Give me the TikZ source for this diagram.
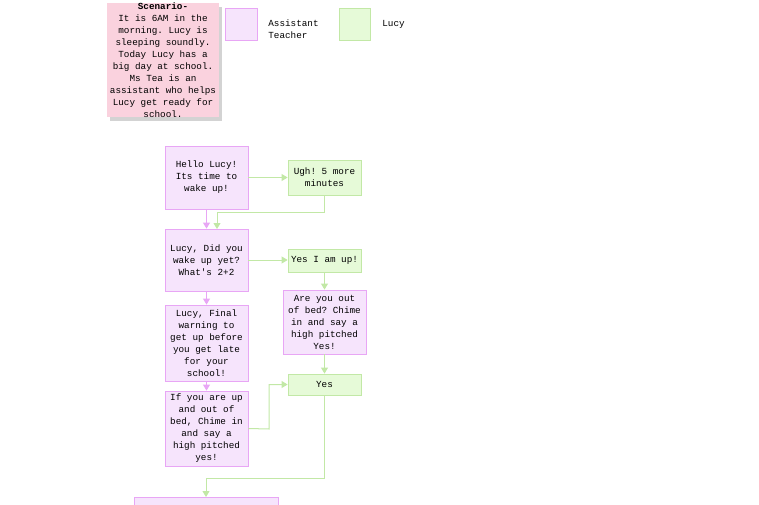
\documentclass[tikz,border=0pt]{standalone}
\usepackage{fontspec}
\setmonofont{Liberation Mono}
\usetikzlibrary{arrows.meta,shadows}
\definecolor{tfill}{HTML}{F6E4FC}
\definecolor{tline}{HTML}{E8A6F5}
\definecolor{lfill}{HTML}{E6FAD8}
\definecolor{lline}{HTML}{C2E8A6}
\definecolor{pfill}{HTML}{FAD2DE}
\begin{document}
\begin{tikzpicture}[x=1pt,y=-1pt,
  box/.style={font=\ttfamily\fontsize{9.3}{12}\selectfont,align=center,inner sep=0pt,line width=0.8pt},
  tbox/.style={box,fill=tfill,draw=tline},
  lbox/.style={box,fill=lfill,draw=lline},
  tarr/.style={draw=tline,line width=1pt,-{Triangle[length=6pt,width=7pt]}},
  larr/.style={draw=lline,line width=1pt,-{Triangle[length=6pt,width=7pt]}}]
\useasboundingbox (0,0) rectangle (759,505);
\node[box,fill=pfill,draw=none,minimum width=112pt,minimum height=114pt,drop shadow={shadow xshift=3pt,shadow yshift=-4pt,opacity=0.35}] (scen) at (163,60) {\textbf{Scenario-}\\It is 6AM in the\\morning. Lucy is\\sleeping soundly.\\Today Lucy has a\\big day at school.\\Ms Tea is an\\assistant who helps\\Lucy get ready for\\school.};
\node[tbox,minimum width=32pt,minimum height=32pt] (lt) at (241,24) {};
\node[box,anchor=west,align=left] (ltt) at (268,29) {Assistant\\Teacher};
\node[lbox,minimum width=31pt,minimum height=32pt] (ll) at (354.5,24) {};
\node[box,anchor=west] (llt) at (382,24) {Lucy};
\node[tbox,minimum width=83pt,minimum height=63pt] (hello) at (206.5,177.5) {Hello Lucy!\\Its time to\\wake up!};
\node[lbox,minimum width=73pt,minimum height=35pt] (ugh) at (324.5,177.5) {Ugh! 5 more\\minutes};
\node[tbox,minimum width=83pt,minimum height=62pt] (did) at (206.5,260) {Lucy, Did you\\wake up yet?\\What's 2+2};
\node[lbox,minimum width=73pt,minimum height=23pt] (up) at (324.5,260.5) {Yes I am up!};
\node[tbox,minimum width=83pt,minimum height=64pt] (out) at (324.5,322) {Are you out\\of bed? Chime\\in and say a\\high pitched\\Yes!};
\node[tbox,minimum width=83pt,minimum height=76pt] (final) at (206.5,343) {Lucy, Final\\warning to\\get up before\\you get late\\for your\\school!};
\node[lbox,minimum width=73pt,minimum height=21pt] (yes) at (324.5,384.5) {Yes};
\node[tbox,minimum width=83pt,minimum height=75pt] (ifup) at (206.5,428.5) {If you are up\\and out of\\bed, Chime in\\and say a\\high pitched\\yes!};
\node[tbox,minimum width=144pt,minimum height=20pt,anchor=north] (last) at (206,497) {};
\draw[larr] (hello.east) -- (ugh.west);
\draw[tarr] (hello.south) -- (did.north);
\draw[larr] (ugh.south) |- (217,212) -- (217,229);
\draw[larr] (did.east) -- (did.east -| up.west);
\draw[larr] (up.south) -- (out.north);
\draw[tarr] (did.south) -- (final.north);
\draw[larr] (out.south) -- (yes.north);
\draw[tarr] (final.south) -- (ifup.north);
\draw[larr] (ifup.east) -- (269,429) |- (yes.west);
\draw[larr] (yes.south) |- (206,478) -- (last.north);
\end{tikzpicture}
\end{document}
